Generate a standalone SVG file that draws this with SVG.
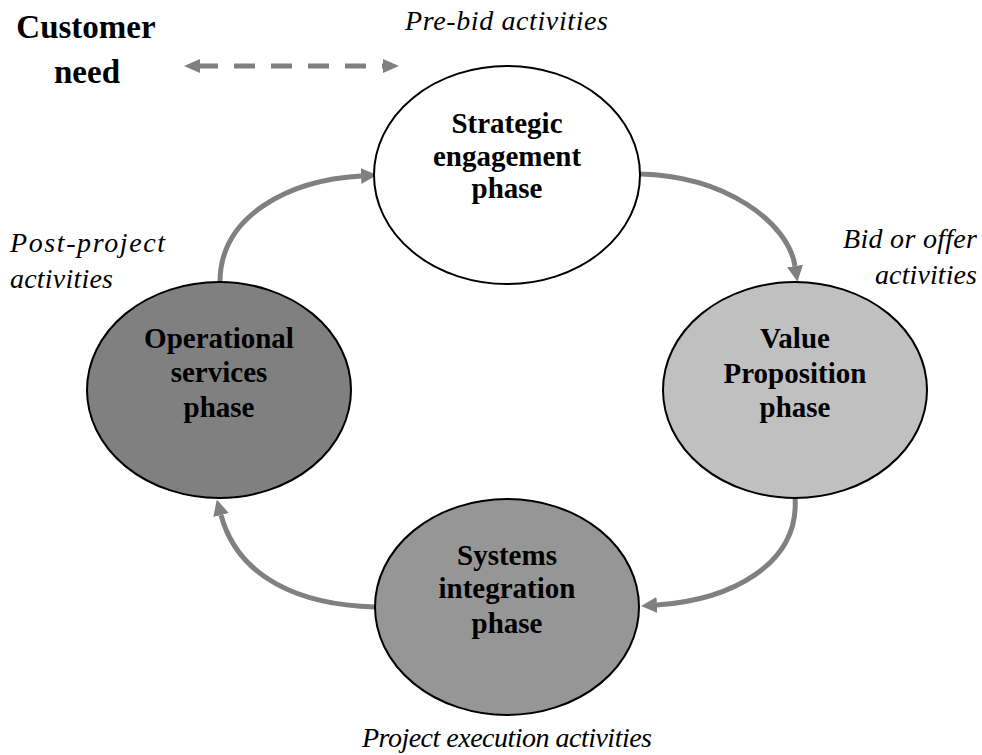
<svg xmlns="http://www.w3.org/2000/svg" width="982" height="755" viewBox="0 0 982 755">
<defs>
<style>
.node{stroke:#000;stroke-width:2}
.nt{font-family:"Liberation Serif","Times New Roman",serif;font-weight:bold;font-size:29px;fill:#000;text-anchor:middle}
.lbl{font-family:"Liberation Serif","Times New Roman",serif;font-style:italic;font-size:28px;fill:#000}
.cust{font-family:"Liberation Serif","Times New Roman",serif;font-weight:bold;font-size:33px;fill:#000;text-anchor:middle}
.arc{fill:none;stroke:#808080;stroke-width:5;marker-end:url(#ah)}
.dash{fill:none;stroke:#808080;stroke-width:5;stroke-dasharray:21 16;stroke-dashoffset:3;marker-start:url(#dh);marker-end:url(#dh)}
</style>
<marker id="ah" viewBox="0 0 16 16" refX="0" refY="8" markerWidth="16" markerHeight="16" markerUnits="userSpaceOnUse" orient="auto">
<path d="M0,0 L16,8 L0,16 z" fill="#808080"/>
</marker>
<marker id="dh" viewBox="0 0 16 14" refX="0" refY="7" markerWidth="16" markerHeight="14" markerUnits="userSpaceOnUse" orient="auto-start-reverse">
<path d="M0,0 L16,7 L0,14 z" fill="#808080"/>
</marker>
</defs>
<rect width="982" height="755" fill="#fff"/>
<g id="connectors">
<path class="arc" d="M640,174 C725,176 788,222 795,266"/>
<path class="arc" d="M795,497 C800,565 730,600 657,605"/>
<path class="arc" d="M375,607 C300,605 238,578 221,515"/>
<path class="arc" d="M220,282 C220,215 290,180 361,176"/>
<line class="dash" x1="200" y1="66" x2="383" y2="66"/>
</g>
<g id="customer-need">
<text class="cust" x="86" y="38">Customer</text>
<text class="cust" x="87" y="83">need</text>
</g>
<g id="strategic">
<ellipse class="node" cx="507" cy="175" rx="133" ry="109" fill="#fff"/>
<text class="nt" x="507" y="133">Strategic</text>
<text class="nt" x="507" y="166">engagement</text>
<text class="nt" x="507" y="198">phase</text>
</g>
<g id="value">
<ellipse class="node" cx="795" cy="390" rx="132" ry="108" fill="#c0c0c0"/>
<text class="nt" x="795" y="348">Value</text>
<text class="nt" x="795" y="383">Proposition</text>
<text class="nt" x="795" y="417">phase</text>
</g>
<g id="systems">
<ellipse class="node" cx="507" cy="607" rx="132" ry="108" fill="#969696"/>
<text class="nt" x="507" y="565">Systems</text>
<text class="nt" x="507" y="598">integration</text>
<text class="nt" x="507" y="633">phase</text>
</g>
<g id="operational">
<ellipse class="node" cx="219" cy="390" rx="132" ry="108" fill="#808080"/>
<text class="nt" x="219" y="348">Operational</text>
<text class="nt" x="219" y="382">services</text>
<text class="nt" x="219" y="417">phase</text>
</g>
<g id="labels">
<text class="lbl" x="405" y="30" textLength="203" lengthAdjust="spacing">Pre-bid activities</text>
<text class="lbl" x="843" y="248" textLength="134" lengthAdjust="spacing">Bid or offer</text>
<text class="lbl" x="875" y="284" textLength="102" lengthAdjust="spacing">activities</text>
<text class="lbl" x="10" y="252" textLength="155" lengthAdjust="spacing">Post-project</text>
<text class="lbl" x="10" y="288" textLength="103" lengthAdjust="spacing">activities</text>
<text class="lbl" x="362" y="747" textLength="290" lengthAdjust="spacing">Project execution activities</text>
</g>
</svg>
